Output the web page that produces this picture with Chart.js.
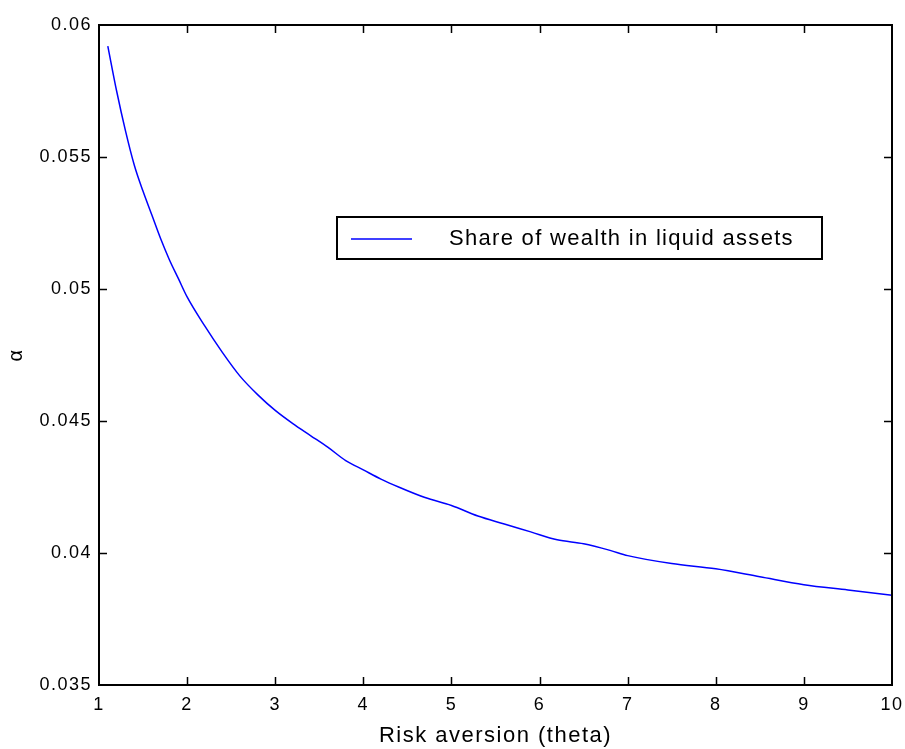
<!DOCTYPE html>
<html lang="en">
<head>
<meta charset="UTF-8">
<title>Share of wealth in liquid assets</title>
<script src="https://cdn.jsdelivr.net/npm/chart.js"></script>
<style>
    body {
        margin: 0;
        padding: 0;
        background: #ffffff;
    }
    .wrap {
        width: 905px;
        height: 749px;
        position: relative;
    }
</style>
</head>
<body>
<div class="wrap">
    <canvas id="chart"></canvas>
</div>
<script>
// values
var theta = [1.1, 1.2, 1.3, 1.4, 1.5, 1.6, 1.7, 1.8, 1.9, 2.0, 2.2, 2.4, 2.6, 2.8, 3.0,
             3.2, 3.4, 3.6, 3.8, 4.0, 4.2, 4.4, 4.7, 5.0, 5.3, 5.6, 5.9, 6.2, 6.5, 6.8,
             7.0, 7.5, 8.0, 8.5, 9.0, 9.5, 10.0];
var alpha = [0.0592, 0.0575, 0.0560, 0.0547, 0.0537, 0.0528, 0.0519, 0.0511, 0.0504, 0.0497,
             0.0486, 0.0476, 0.0467, 0.0460, 0.0454, 0.0449, 0.04445, 0.0440, 0.0435, 0.04315,
             0.0428, 0.0425, 0.0421, 0.0418, 0.0414, 0.0411, 0.0408, 0.0405, 0.04035, 0.0401,
             0.0399, 0.0396, 0.0394, 0.0391, 0.0388, 0.0386, 0.0384];
var xTicks = [1, 2, 3, 4, 5, 6, 7, 8, 9, 10];
var yTicks = [0.035, 0.04, 0.045, 0.05, 0.055, 0.06];
var seriesName = 'Share of wealth in liquid assets';

var fontFam = "'Liberation Sans', Arial, sans-serif";

// box round the plot and inward tick marks on all sides
var frame = {
    id: 'frame',
    beforeDraw: function (chart) {
        chart.ctx.letterSpacing = '1.5px';
    },
    afterDatasetsDraw: function (chart) {
        var ctx = chart.ctx, a = chart.chartArea;
        var sx = chart.scales.x, sy = chart.scales.y;
        ctx.save();
        ctx.strokeStyle = '#000';
        ctx.lineWidth = 1.5;
        xTicks.forEach(function (v) {
            if (v === sx.min || v === sx.max) return;
            var px = Math.round(sx.getPixelForValue(v)) + 0.5;
            ctx.beginPath();
            ctx.moveTo(px, a.bottom); ctx.lineTo(px, a.bottom - 8);
            ctx.moveTo(px, a.top); ctx.lineTo(px, a.top + 8);
            ctx.stroke();
        });
        yTicks.forEach(function (v) {
            if (v === sy.min || v === sy.max) return;
            var py = Math.round(sy.getPixelForValue(v)) + 0.5;
            ctx.beginPath();
            ctx.moveTo(a.left, py); ctx.lineTo(a.left + 8, py);
            ctx.moveTo(a.right, py); ctx.lineTo(a.right - 8, py);
            ctx.stroke();
        });
        ctx.lineWidth = 2;
        ctx.strokeRect(a.left, a.top, a.right - a.left, a.bottom - a.top);
        ctx.restore();
    },
    afterDraw: function (chart) {
        // legend box
        var ctx = chart.ctx;
        var ds = chart.data.datasets[0];
        ctx.save();
        ctx.fillStyle = '#fff';
        ctx.fillRect(337, 217, 485, 42);
        ctx.strokeStyle = '#000';
        ctx.lineWidth = 2;
        ctx.strokeRect(337, 217, 485, 42);
        ctx.strokeStyle = ds.borderColor;
        ctx.lineWidth = 1.5;
        ctx.beginPath();
        ctx.moveTo(351, 239);
        ctx.lineTo(412, 239);
        ctx.stroke();
        ctx.fillStyle = '#000';
        ctx.font = '22px ' + fontFam;
        ctx.letterSpacing = '1.3px';
        ctx.textBaseline = 'middle';
        ctx.textAlign = 'left';
        ctx.fillText(ds.label, 449, 239);
        ctx.restore();
    }
};

var points = theta.map(function (t, i) { return { x: t, y: alpha[i] }; });

var ctx = document.getElementById('chart').getContext('2d');
var chart = new Chart(ctx, {
    type: 'line',
    data: {
        datasets: [{
            label: seriesName,
            data: points,
            borderColor: '#0000ff',
            borderWidth: 1.5,
            pointRadius: 0,
            fill: false,
            cubicInterpolationMode: 'monotone'
        }]
    },
    options: {
        responsive: true,
        maintainAspectRatio: false,
        animation: false,
        layout: { padding: { left: 0, right: 13, top: 25, bottom: 0 } },
        plugins: {
            legend: { display: false },
            tooltip: { enabled: false }
        },
        scales: {
            x: {
                type: 'linear',
                min: 1,
                max: 10,
                afterBuildTicks: function (s) { s.ticks = xTicks.map(function (v) { return { value: v }; }); },
                afterFit: function (s) { s.height = 64; s.paddingLeft = 0; s.paddingRight = 0; },
                grid: { display: false, drawTicks: false },
                border: { display: false },
                ticks: {
                    color: '#000',
                    padding: 9,
                    maxRotation: 0,
                    font: { family: fontFam, size: 18 }
                },
                title: {
                    display: true,
                    text: 'Risk aversion (theta)',
                    color: '#000',
                    font: { family: fontFam, size: 22 },
                    padding: { top: 0, bottom: 0 }
                }
            },
            y: {
                type: 'linear',
                min: 0.035,
                max: 0.06,
                afterBuildTicks: function (s) { s.ticks = yTicks.map(function (v) { return { value: v }; }); },
                afterFit: function (s) { s.width = 99; },
                grid: { display: false, drawTicks: false },
                border: { display: false },
                ticks: {
                    color: '#000',
                    padding: 7,
                    font: { family: fontFam, size: 18 },
                    callback: function (v) { return String(+v.toFixed(3)); }
                },
                title: {
                    display: true,
                    text: 'α',
                    color: '#000',
                    font: { family: fontFam, size: 20 },
                    padding: { top: 4, bottom: 0 }
                }
            }
        }
    },
    plugins: [frame]
});
</script>
</body>
</html>
